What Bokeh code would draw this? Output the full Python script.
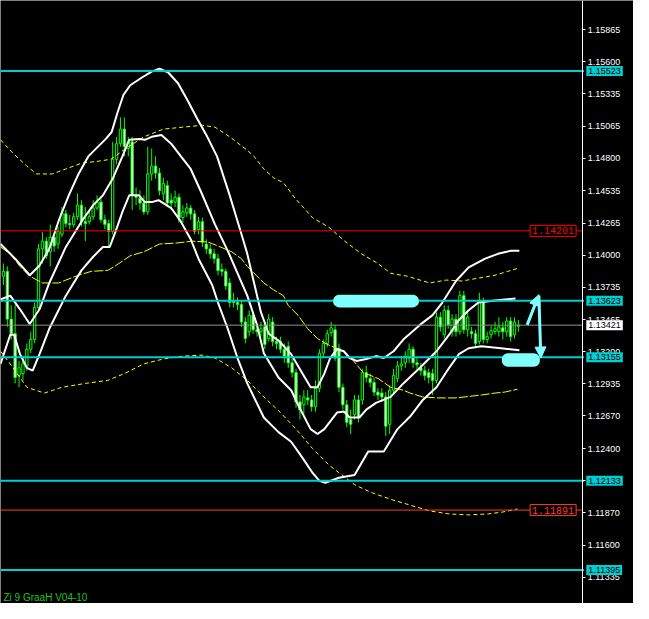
from bokeh.plotting import figure
from bokeh.models import (Range1d, FixedTicker, PrintfTickFormatter, Label, LinearAxis,
                          BoxAnnotation, Arrow, NormalHead, ColumnDataSource)
from bokeh.embed import file_html
from bokeh.resources import INLINE

# ---------------- data ----------------
opens = [1.13826, 1.13866, 1.13471, 1.13350, 1.13004, 1.13020, 1.13084, 1.13222, 1.13302, 1.13568,
         1.14052, 1.14116, 1.14028, 1.14148, 1.14092, 1.14173, 1.14342, 1.14261, 1.14253, 1.14318,
         1.14414, 1.14277, 1.14277, 1.14318, 1.14390, 1.14439, 1.14293, 1.14261, 1.14197, 1.14793,
         1.14922, 1.15043, 1.14882, 1.14938, 1.14495, 1.14471, 1.14431, 1.14358, 1.14672, 1.14737,
         1.14680, 1.14511, 1.14576, 1.14455, 1.14439, 1.14479, 1.14310, 1.14350, 1.14390, 1.14342,
         1.14213, 1.14277, 1.14092, 1.14052, 1.14011, 1.13971, 1.13882, 1.13866, 1.13770, 1.13616,
         1.13608, 1.13592, 1.13447, 1.13367, 1.13504, 1.13383, 1.13367, 1.13407, 1.13310, 1.13447,
         1.13286, 1.13286, 1.13222, 1.13246, 1.13109, 1.13028, 1.12786, 1.12762, 1.12819, 1.12802,
         1.12746, 1.12899, 1.13189, 1.13270, 1.13359, 1.13383, 1.13230, 1.12907, 1.12762, 1.12641,
         1.12681, 1.12802, 1.12802, 1.13028, 1.12980, 1.12947, 1.12867, 1.12859, 1.12827, 1.12601,
         1.12883, 1.12980, 1.13084, 1.13109, 1.13149, 1.13222, 1.13109, 1.13068, 1.13044, 1.13028,
         1.13020, 1.12964, 1.13487, 1.13342, 1.13544, 1.13367, 1.13471, 1.13367, 1.13665, 1.13383,
         1.13367, 1.13350, 1.13286, 1.13608, 1.13302, 1.13342, 1.13367, 1.13367, 1.13399, 1.13367,
         1.13455, 1.13342, 1.13411]
closes = [1.13866, 1.13471, 1.13350, 1.12988, 1.13068, 1.13101, 1.13222, 1.13302, 1.13568, 1.14052,
          1.14116, 1.13995, 1.14148, 1.14076, 1.14197, 1.14350, 1.14261, 1.14253, 1.14318, 1.14414,
          1.14277, 1.14261, 1.14318, 1.14390, 1.14439, 1.14293, 1.14253, 1.14197, 1.14793, 1.14922,
          1.15043, 1.14898, 1.14938, 1.14495, 1.14479, 1.14431, 1.14358, 1.14672, 1.14737, 1.14680,
          1.14535, 1.14592, 1.14431, 1.14431, 1.14479, 1.14310, 1.14358, 1.14390, 1.14342, 1.14197,
          1.14277, 1.14108, 1.14052, 1.14011, 1.13971, 1.13874, 1.13866, 1.13745, 1.13608, 1.13608,
          1.13592, 1.13447, 1.13310, 1.13504, 1.13383, 1.13367, 1.13391, 1.13262, 1.13471, 1.13286,
          1.13270, 1.13222, 1.13165, 1.13109, 1.13028, 1.12786, 1.12722, 1.12827, 1.12802, 1.12746,
          1.12899, 1.13189, 1.13270, 1.13350, 1.13399, 1.13149, 1.12907, 1.12762, 1.12617, 1.12601,
          1.12802, 1.12657, 1.13028, 1.12988, 1.12947, 1.12867, 1.12843, 1.12827, 1.12585, 1.12883,
          1.13004, 1.13084, 1.13101, 1.13165, 1.13222, 1.13109, 1.13093, 1.13044, 1.13004, 1.12988,
          1.12964, 1.13487, 1.13407, 1.13544, 1.13423, 1.13471, 1.13367, 1.13665, 1.13383, 1.13487,
          1.13350, 1.13270, 1.13608, 1.13302, 1.13326, 1.13375, 1.13391, 1.13407, 1.13367, 1.13455,
          1.13326, 1.13447, 1.13421]
highs = [1.13931, 1.13907, 1.13584, 1.13592, 1.13125, 1.13165, 1.13270, 1.13367, 1.13608, 1.14092,
         1.14189, 1.14148, 1.14253, 1.14173, 1.14237, 1.14398, 1.14374, 1.14334, 1.14350, 1.14511,
         1.14455, 1.14398, 1.14374, 1.14455, 1.14495, 1.14471, 1.14334, 1.14293, 1.14938, 1.14979,
         1.15140, 1.15140, 1.14979, 1.14979, 1.14559, 1.14535, 1.14495, 1.14898, 1.14882, 1.14817,
         1.14721, 1.14640, 1.14616, 1.14511, 1.14535, 1.14511, 1.14414, 1.14431, 1.14414, 1.14374,
         1.14318, 1.14310, 1.14132, 1.14092, 1.14052, 1.14011, 1.13931, 1.13890, 1.13810, 1.13689,
         1.13649, 1.13625, 1.13487, 1.13544, 1.13528, 1.13423, 1.13447, 1.13447, 1.13512, 1.13487,
         1.13326, 1.13326, 1.13270, 1.13286, 1.13141, 1.13060, 1.12843, 1.12883, 1.12883, 1.12843,
         1.12964, 1.13222, 1.13302, 1.13383, 1.13447, 1.13423, 1.13270, 1.12939, 1.12802, 1.12722,
         1.12843, 1.12843, 1.13060, 1.13084, 1.13020, 1.12988, 1.12899, 1.12899, 1.12867, 1.12923,
         1.13060, 1.13125, 1.13165, 1.13205, 1.13270, 1.13246, 1.13149, 1.13109, 1.13084, 1.13060,
         1.13060, 1.13528, 1.13528, 1.13584, 1.13584, 1.13512, 1.13512, 1.13705, 1.13705, 1.13528,
         1.13407, 1.13383, 1.13689, 1.13649, 1.13367, 1.13415, 1.13447, 1.13487, 1.13447, 1.13487,
         1.13487, 1.13487, 1.13463]
lows = [1.13753, 1.13407, 1.13302, 1.12939, 1.12907, 1.12964, 1.13044, 1.13189, 1.13270, 1.13544,
        1.13931, 1.13971, 1.13907, 1.14028, 1.14052, 1.14148, 1.14229, 1.14213, 1.14229, 1.14293,
        1.14237, 1.14116, 1.14253, 1.14293, 1.14374, 1.14269, 1.14213, 1.14076, 1.14173, 1.14753,
        1.14898, 1.14817, 1.14817, 1.14374, 1.14414, 1.14374, 1.14334, 1.14334, 1.14616, 1.14632,
        1.14495, 1.14455, 1.14398, 1.14374, 1.14398, 1.14269, 1.14269, 1.14318, 1.14293, 1.14173,
        1.14173, 1.14068, 1.14011, 1.13971, 1.13931, 1.13834, 1.13826, 1.13713, 1.13568, 1.13568,
        1.13544, 1.13407, 1.13270, 1.13326, 1.13350, 1.13326, 1.13326, 1.13222, 1.13286, 1.13246,
        1.13222, 1.13189, 1.13109, 1.13068, 1.12988, 1.12738, 1.12641, 1.12681, 1.12762, 1.12706,
        1.12706, 1.12867, 1.13149, 1.13238, 1.13326, 1.13125, 1.12867, 1.12722, 1.12577, 1.12520,
        1.12641, 1.12617, 1.12762, 1.12947, 1.12907, 1.12835, 1.12802, 1.12786, 1.12504, 1.12520,
        1.12843, 1.12947, 1.13044, 1.13068, 1.13109, 1.13068, 1.13060, 1.13004, 1.12964, 1.12939,
        1.12843, 1.12939, 1.13367, 1.13310, 1.13391, 1.13326, 1.13326, 1.13342, 1.13350, 1.13326,
        1.13310, 1.13230, 1.13262, 1.13270, 1.13270, 1.13310, 1.13342, 1.13326, 1.13302, 1.13326,
        1.13286, 1.13310, 1.13367]

# upper white band
up_x = [-0.75, 3, 6.75, 9.25, 11.75, 14.25, 16.75, 19.25, 21.75, 24.25, 26.25, 27.75, 29.25, 30.75,
        32.5, 35.5, 38, 40, 42.25, 44.75, 47.25, 49.75, 52.25, 54.75, 58, 60.5, 62.5, 64.25, 66, 68,
        70.5, 73.75, 77.25, 78.75, 80.5, 82.25, 83.75, 85.5, 87.25, 88.75, 90.5, 93, 95.5, 97.5, 100,
        102.5, 106.75, 110, 112.5, 116, 119.25, 123.5, 126.75, 130, 132.25]
up_y = [1.14092, 1.13971, 1.13834, 1.13915, 1.14052, 1.14293, 1.14495, 1.14672, 1.14817, 1.14898,
        1.14962, 1.15019, 1.15180, 1.15325, 1.15406, 1.15470, 1.15519, 1.15543, 1.15511, 1.15422,
        1.15277, 1.15124, 1.14979, 1.14817, 1.14495, 1.14229, 1.14011, 1.13770, 1.13528, 1.13350,
        1.13294, 1.13181, 1.12988, 1.12907, 1.12907, 1.13020, 1.13149, 1.13222, 1.13205, 1.13149,
        1.13125, 1.13141, 1.13165, 1.13149, 1.13205, 1.13302, 1.13423, 1.13504, 1.13608, 1.13786,
        1.13899, 1.13971, 1.14011, 1.14036, 1.14036]
# middle white band
mid_x = [-0.75, 1.75, 4.25, 6.75, 9.25, 11.75, 16, 20, 23, 25.5, 28, 30.5, 32.25, 34.75, 36.25, 38,
         40.5, 43, 45.5, 48, 50.5, 54.25, 57.5, 62.5, 65, 66.75, 70.5, 73.75, 75.5, 78.75, 80.5, 82.25,
         85.5, 87.25, 88.75, 91.25, 93, 95.5, 99.25, 102.5, 106.75, 111, 114.25, 116.75, 119.25,
         121.75, 126, 131.25]
mid_y = [1.13633, 1.13665, 1.13552, 1.13431, 1.13552, 1.13770, 1.14068, 1.14277, 1.14414, 1.14495,
         1.14632, 1.14817, 1.14954, 1.14962, 1.14954, 1.14979, 1.14995, 1.14922, 1.14817, 1.14713,
         1.14535, 1.14253, 1.14036, 1.13665, 1.13423, 1.13189, 1.12988, 1.12883, 1.12762, 1.12561,
         1.12520, 1.12561, 1.12698, 1.12706, 1.12657, 1.12657, 1.12722, 1.12778, 1.12827, 1.12939,
         1.13068, 1.13205, 1.13342, 1.13463, 1.13544, 1.13608, 1.13625, 1.13641]
# lower white band
low_x = [-0.75, 1.75, 2.75, 4.25, 6, 7.5, 9.25, 11.75, 16, 20, 23, 25.5, 27.25, 28.75, 30.5, 32.25,
         34.75, 36.25, 38, 39.75, 43, 45.5, 48, 50, 53.5, 55, 57.5, 60, 62.5, 66.75, 70.5, 73.75,
         76.75, 79.25, 81, 82.5, 86, 90, 93.5, 97.5, 101, 104.25, 107.5, 111, 114.25, 116.75, 119.25,
         122.5, 127.5, 132.25]
low_y = [1.13101, 1.13342, 1.13342, 1.13181, 1.13068, 1.13044, 1.13181, 1.13391, 1.13665, 1.13874,
         1.13987, 1.14068, 1.14068, 1.14197, 1.14358, 1.14495, 1.14495, 1.14439, 1.14439, 1.14455,
         1.14390, 1.14277, 1.14132, 1.13971, 1.13753, 1.13608, 1.13391, 1.13149, 1.12939, 1.12657,
         1.12536, 1.12456, 1.12319, 1.12198, 1.12133, 1.12117, 1.12158, 1.12182, 1.12375, 1.12375,
         1.12561, 1.12665, 1.12802, 1.12907, 1.13068, 1.13181, 1.13230, 1.13246, 1.13230, 1.13213]
# yellow dashed upper envelope
yu_x = [-0.75, 2.5, 6, 8.5, 12.5, 16, 20, 24.25, 27.5, 31, 36, 41, 46, 51, 54.25, 58, 62.25, 64.25,
        66.75, 69.25, 71.75, 74.75, 79.25, 83.5, 87.5, 91.75, 96, 99.25, 103.5, 109.25, 113.5, 117.5,
        121.75, 126, 129.25, 131.75]
yu_y = [1.14954, 1.14842, 1.14737, 1.14672, 1.14672, 1.14713, 1.14761, 1.14777, 1.14793, 1.14874,
        1.14979, 1.15043, 1.15059, 1.15075, 1.15059, 1.14979, 1.14874, 1.14817, 1.14713, 1.14640,
        1.14600, 1.14471, 1.14310, 1.14229, 1.14116, 1.14011, 1.13931, 1.13850, 1.13826, 1.13770,
        1.13794, 1.13786, 1.13810, 1.13834, 1.13866, 1.13890]
# yellow middle average
ym_x = [-0.75, 1.75, 4.25, 6.75, 10, 14.25, 16, 19.25, 22.5, 26.75, 28.5, 32.5, 36, 40, 44.25, 48.5,
        52.5, 55, 58.5, 61, 62.5, 64.25, 66.75, 69.25, 71.75, 73, 75.5, 78, 80.5, 83, 87.25, 89.75,
        92.25, 96, 99.25, 102.5, 104.25, 107.5, 111, 116, 122.5, 126, 128.5, 131.75]
ym_y = [1.14068, 1.14011, 1.13907, 1.13826, 1.13770, 1.13770, 1.13794, 1.13834, 1.13866, 1.13874,
        1.13907, 1.13995, 1.14028, 1.14092, 1.14100, 1.14116, 1.14108, 1.14076, 1.14028, 1.13971,
        1.13907, 1.13850, 1.13770, 1.13713, 1.13665, 1.13584, 1.13504, 1.13391, 1.13310, 1.13262,
        1.13205, 1.13125, 1.13028, 1.12980, 1.12907, 1.12883, 1.12859, 1.12827, 1.12819, 1.12819,
        1.12843, 1.12859, 1.12867, 1.12891]
# yellow dashed lower envelope
yl_x = [-0.75, 2.5, 6, 10.5, 15, 21, 26.75, 31, 36, 41, 46, 51, 54.25, 58.5, 62.5, 66.75, 71, 75,
        79.25, 83.5, 86.75, 90, 94.25, 99.25, 104.25, 109.25, 114.25, 119.25, 124.25, 128, 131.75]
yl_y = [1.13205, 1.13068, 1.12907, 1.12859, 1.12907, 1.12939, 1.12964, 1.13020, 1.13101, 1.13141,
        1.13165, 1.13173, 1.13149, 1.13068, 1.12964, 1.12827, 1.12698, 1.12561, 1.12399, 1.12262,
        1.12182, 1.12101, 1.12037, 1.11980, 1.11932, 1.11884, 1.11859, 1.11851, 1.11859, 1.11875,
        1.11900]

# axis ticks and horizontal levels
tick_values = [1.15865, 1.15600, 1.15335, 1.15065, 1.14800, 1.14535, 1.14265, 1.14000, 1.13735,
               1.13465, 1.13200, 1.12935, 1.12670, 1.12400, 1.12135, 1.11870, 1.11600, 1.11335]
cyan_levels = [1.15523, 1.13623, 1.13155, 1.12133, 1.11395]
red_levels = [1.14201, 1.11891]
red_colors = ["#ff0000", "#ff3c28"]
bid_price = 1.13421

# hand-drawn highlights (bar index / price)
box1 = dict(left=84.5, right=106.5, bottom=1.13568, top=1.13673)
box2 = dict(left=127.75, right=137.5, bottom=1.13076, top=1.13189)
arrow_up = (134.25, 1.13423, 137.25, 1.13673)
arrow_down = (137.25, 1.13665, 137.75, 1.13149)
title_text = "Zi 9 GraaH  V04-10"

# ---------------- figure ----------------
W, H = 633, 603
AXIS_X = 148.5          # bar-index position of the price scale
X_END = 161.5
p = figure(width=W, height=H, x_range=Range1d(-0.75, X_END), y_range=Range1d(1.11118, 1.16107),
           output_backend="svg", toolbar_location=None, x_axis_location=None,
           y_axis_location=None, background_fill_color="black", border_fill_color="black",
           outline_line_color=None, min_border=0)
p.grid.visible = False

ax = LinearAxis(fixed_location=AXIS_X)
ax.ticker = FixedTicker(ticks=tick_values)
ax.formatter = PrintfTickFormatter(format="%.5f")
ax.axis_line_color = "white"
ax.major_tick_line_color = "white"
ax.major_tick_out = 3
ax.major_tick_in = 0
ax.minor_tick_line_color = None
ax.major_label_text_color = "white"
ax.major_label_text_font = "Liberation Sans"
ax.major_label_text_font_size = "9px"
ax.major_label_standoff = 2
p.add_layout(ax, "right")

# candles
idx = list(range(len(opens)))
src = ColumnDataSource(dict(
    x=idx, o=opens, h=highs, l=lows, c=closes,
    top=[max(a, b) for a, b in zip(opens, closes)],
    bottom=[min(a, b) for a, b in zip(opens, closes)],
    fill=["black" if c >= o else "white" for o, c in zip(opens, closes)]))
p.segment(x0="x", y0="h", x1="x", y1="l", source=src, line_color="#00ff00", line_width=1)
p.vbar(x="x", width=0.6, top="top", bottom="bottom", fill_color="fill",
       line_color="#00ff00", line_width=1, source=src)

# indicator lines
p.line(yu_x, yu_y, line_color="#ffff00", line_width=1, line_dash="4 3")
p.line(yl_x, yl_y, line_color="#ffff00", line_width=1, line_dash="4 3")
p.line(ym_x, ym_y, line_color="#ffff00", line_width=1, line_dash="9 2")
for xs, ys in ((up_x, up_y), (mid_x, mid_y), (low_x, low_y)):
    p.line(xs, ys, line_color="white", line_width=2)

# horizontal levels (end at the price scale)
n_c = len(cyan_levels)
p.segment(x0=[-0.75] * n_c, y0=cyan_levels, x1=[AXIS_X + 0.3] * n_c, y1=cyan_levels,
          line_color="#00CED1", line_width=2)
p.segment(x0=[-0.75, -0.75], y0=red_levels, x1=[AXIS_X, AXIS_X], y1=red_levels,
          line_color=red_colors, line_width=1)
p.segment(x0=[-0.75], y0=[bid_price], x1=[AXIS_X], y1=[bid_price], line_color="#909090", line_width=1)

# highlights
HL = "#80ffff"
for b in (box1, box2):
    p.add_layout(BoxAnnotation(fill_color=HL, fill_alpha=1, line_alpha=0, border_radius=6, **b))
for (x0, y0, x1, y1) in (arrow_up, arrow_down):
    p.add_layout(Arrow(end=NormalHead(size=11, fill_color=HL, line_color=HL),
                       x_start=x0, y_start=y0, x_end=x1, y_end=y1,
                       line_color=HL, line_width=3))

# price tags on the scale
for lv in cyan_levels:
    p.add_layout(Label(x=AXIS_X + 0.9, y=lv, text=f"{lv:.5f}",
                       text_baseline="middle", text_align="left", text_color="black",
                       text_font="Liberation Sans", text_font_size="9px",
                       background_fill_color="#00CED1", padding=2))
p.add_layout(Label(x=AXIS_X + 0.9, y=bid_price, text=f"{bid_price:.5f}",
                   text_baseline="middle", text_align="left", text_color="black",
                   text_font="Liberation Sans", text_font_size="9px",
                   background_fill_color="white", padding=2))
for lv, col in zip(red_levels, red_colors):
    p.add_layout(Label(x=135, y=lv, text=f"{lv:.5f}", text_baseline="middle", text_align="left",
                       text_color=col, text_font="Liberation Mono", text_font_size="10px",
                       background_fill_color="black", border_line_color=col, padding=2))

p.add_layout(Label(x=3, y=1, x_units="screen", y_units="screen", text=title_text,
                   text_baseline="bottom", text_color="#20c020", text_font="Liberation Sans",
                   text_font_size="10px"))

open("out.html", "w").write(file_html(p, INLINE))
